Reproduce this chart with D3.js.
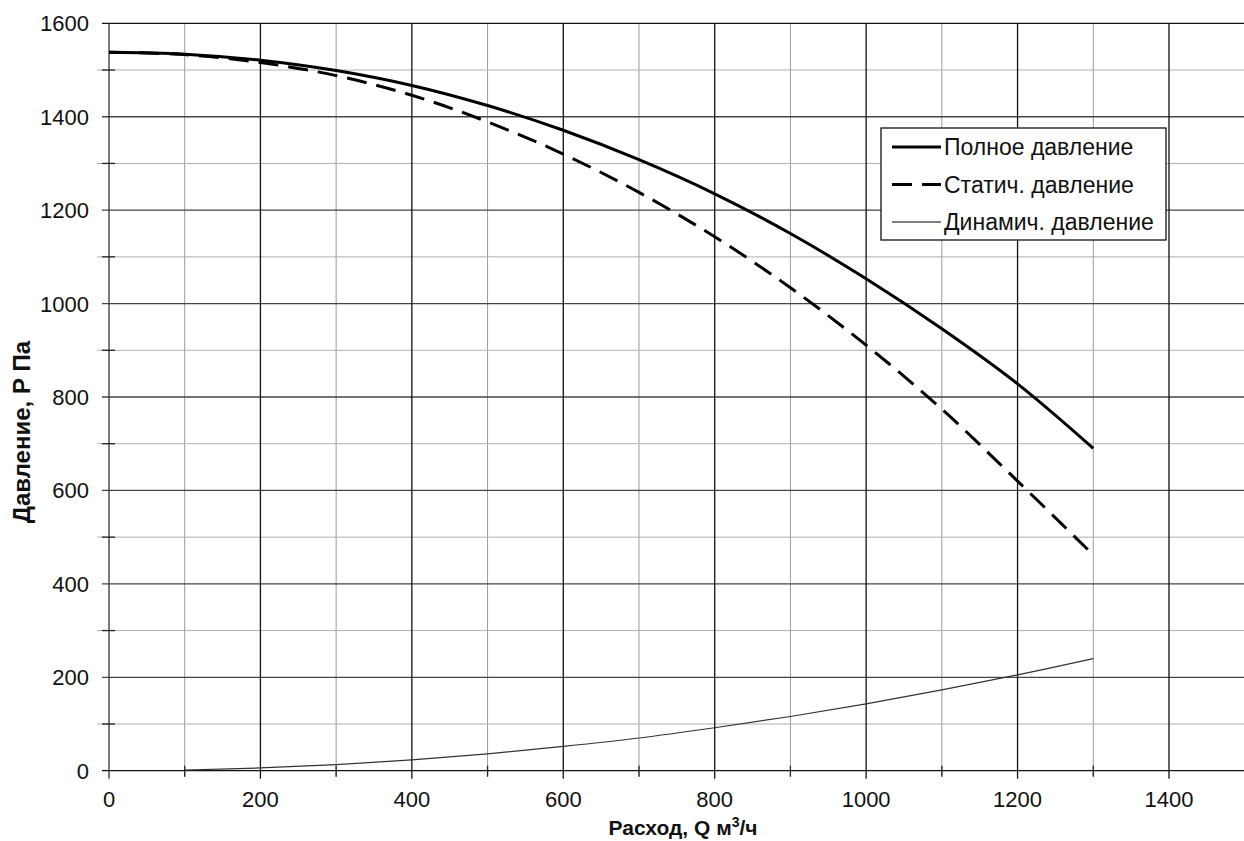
<!DOCTYPE html>
<html>
<head>
<meta charset="utf-8">
<script src="https://cdn.jsdelivr.net/npm/d3@7"></script>
<style>
  body { margin: 0; background: #fff; }
  text { font-family: "Liberation Sans", Arial, sans-serif; }
</style>
</head>
<body>
<svg id="chart"></svg>
<script>
// Data
const flow = [0, 100, 200, 300, 400, 500, 600, 700, 800, 900, 1000, 1100, 1200, 1300];
const totalPressure = [1538, 1534, 1521, 1499, 1467, 1424, 1371, 1308, 1235, 1150, 1053, 946, 828, 690];
const staticPressure = [1538, 1533, 1516, 1488, 1446, 1389, 1320, 1238, 1143, 1034, 911, 774, 620, 462];
const dynamicFlow = [100, 200, 300, 400, 500, 600, 700, 800, 900, 1000, 1100, 1200, 1300];
const dynamicPressure = [1.5, 6, 13, 23, 36, 52, 70, 92, 116, 143, 173, 205, 240];

const xTicks = [0, 200, 400, 600, 800, 1000, 1200, 1400];
const yTicks = [0, 200, 400, 600, 800, 1000, 1200, 1400, 1600];
const seriesNames = ["Полное давление", "Статич. давление", "Динамич. давление"];

const width = 1244, height = 841;

const svg = d3.select("#chart")
  .attr("width", width)
  .attr("height", height)
  .style("background", "#fff");

const xScale = d3.scaleLinear().domain([0, 1500]).range([109, 1244.7]);
const yScale = d3.scaleLinear().domain([0, 1600]).range([770.7, 23.3]);

const minorX = d3.range(100, 1500, 200);
const minorY = d3.range(100, 1600, 200);

// minor grid
svg.append("g").selectAll("line").data(minorX).join("line")
  .attr("x1", d => xScale(d)).attr("x2", d => xScale(d))
  .attr("y1", yScale(1600)).attr("y2", yScale(0) + 6)
  .attr("stroke", "#9a9a9a").attr("stroke-width", 1);

svg.append("g").selectAll("line").data(minorY).join("line")
  .attr("x1", xScale(0) - 12).attr("x2", width)
  .attr("y1", d => yScale(d)).attr("y2", d => yScale(d))
  .attr("stroke", "#b0b0b0").attr("stroke-width", 1);

// major grid
svg.append("g").selectAll("line").data(yTicks).join("line")
  .attr("x1", xScale(0) - 7).attr("x2", width)
  .attr("y1", d => yScale(d)).attr("y2", d => yScale(d))
  .attr("stroke", d => d === 1600 || d === 0 ? "#111" : "#444")
  .attr("stroke-width", 1.3);

svg.append("g").selectAll("line").data(xTicks).join("line")
  .attr("x1", d => xScale(d)).attr("x2", d => xScale(d))
  .attr("y1", yScale(1600)).attr("y2", yScale(0) + 8)
  .attr("stroke", d => d === 0 ? "#333" : "#111")
  .attr("stroke-width", 1.3);

// minor tick marks across the axes
svg.append("g").selectAll("line").data(minorY).join("line")
  .attr("x1", xScale(0) - 7).attr("x2", xScale(0) + 6)
  .attr("y1", d => yScale(d)).attr("y2", d => yScale(d))
  .attr("stroke", "#222").attr("stroke-width", 1.3);

svg.append("g").selectAll("line").data(minorX).join("line")
  .attr("x1", d => xScale(d)).attr("x2", d => xScale(d))
  .attr("y1", yScale(0) - 5).attr("y2", yScale(0) + 6)
  .attr("stroke", "#222").attr("stroke-width", 1.3);

// tick labels
svg.append("g").selectAll("text").data(yTicks).join("text")
  .attr("x", 89)
  .attr("y", d => yScale(d) + 8)
  .attr("text-anchor", "end")
  .attr("font-size", 22)
  .attr("fill", "#111")
  .text(d => d);

svg.append("g").selectAll("text").data(xTicks).join("text")
  .attr("x", d => xScale(d))
  .attr("y", 807)
  .attr("text-anchor", "middle")
  .attr("font-size", 22)
  .attr("fill", "#111")
  .text(d => d);

// axis titles
const xTitle = svg.append("text")
  .attr("x", 683)
  .attr("y", 835)
  .attr("text-anchor", "middle")
  .attr("font-size", 21)
  .attr("font-weight", "bold")
  .attr("fill", "#111");
xTitle.append("tspan").text("Расход, Q м");
xTitle.append("tspan").attr("font-size", 14).attr("dy", -8).text("3");
xTitle.append("tspan").attr("dy", 8).text("/ч");

svg.append("text")
  .attr("transform", "translate(30,432) rotate(-90)")
  .attr("text-anchor", "middle")
  .attr("font-size", 24)
  .attr("font-weight", "bold")
  .attr("fill", "#111")
  .text("Давление, Р Па");

// curves
const line = d3.line()
  .x(d => xScale(d[0]))
  .y(d => yScale(d[1]))
  .curve(d3.curveCatmullRom.alpha(0.5));

svg.append("path")
  .datum(d3.zip(flow, totalPressure))
  .attr("d", line)
  .attr("fill", "none")
  .attr("stroke", "#000")
  .attr("stroke-width", 3);

svg.append("path")
  .datum(d3.zip(flow, staticPressure))
  .attr("d", line)
  .attr("fill", "none")
  .attr("stroke", "#000")
  .attr("stroke-width", 3)
  .attr("stroke-dasharray", "20,10");

svg.append("path")
  .datum(d3.zip(dynamicFlow, dynamicPressure))
  .attr("d", line)
  .attr("fill", "none")
  .attr("stroke", "#333")
  .attr("stroke-width", 1.2);

// legend
const legend = svg.append("g").attr("transform", "translate(881,128)");

legend.append("rect")
  .attr("width", 285)
  .attr("height", 112)
  .attr("fill", "#fff")
  .attr("stroke", "#111")
  .attr("stroke-width", 1.3);

const legendStyles = [
  { width: 3, dash: null },
  { width: 3, dash: "20,10" },
  { width: 1.2, dash: null }
];

seriesNames.forEach((name, i) => {
  const y = 19 + i * 37.5;
  legend.append("line")
    .attr("x1", 11).attr("x2", 60)
    .attr("y1", y).attr("y2", y)
    .attr("stroke", "#000")
    .attr("stroke-width", legendStyles[i].width)
    .attr("stroke-dasharray", legendStyles[i].dash);
  legend.append("text")
    .attr("x", 63)
    .attr("y", y + 8)
    .attr("font-size", 23)
    .attr("fill", "#111")
    .text(name);
});
</script>
</body>
</html>
